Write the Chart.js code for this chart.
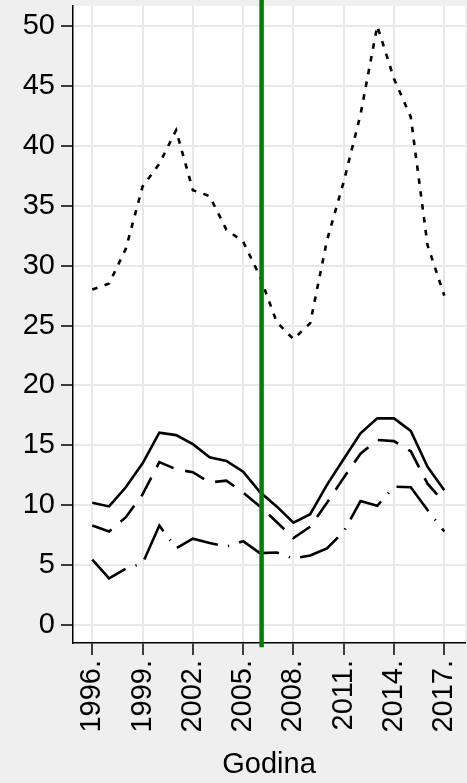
<!DOCTYPE html>
<html lang="hr">

<head>
    <meta charset="UTF-8">
    <title>Godina</title>
    <script src="https://cdn.jsdelivr.net/npm/chart.js@4.4.1/dist/chart.umd.min.js"></script>
    <style>
        body { margin: 0; background: #efefef; }
        #wrap { width: 467px; height: 783px; position: relative; }
    </style>
</head>

<body>
    <div id="wrap"><canvas id="chart"></canvas></div>

    <script>
        // data
        const years = [1996, 1997, 1998, 1999, 2000, 2001, 2002, 2003, 2004, 2005, 2006,
            2007, 2008, 2009, 2010, 2011, 2012, 2013, 2014, 2015, 2016, 2017];
        const dotted = [28.0, 28.5, 31.4, 36.6, 38.5, 41.3, 36.3, 35.8, 33.0, 32.0, 29.1,
            25.3, 23.85, 25.2, 32.1, 37.0, 42.6, 50.0, 45.6, 42.4, 31.7, 27.5];
        const solid = [10.2, 9.9, 11.5, 13.5, 16.05, 15.85, 15.1, 14.0, 13.7, 12.8, 11.1,
            9.9, 8.55, 9.25, 11.7, 13.85, 16.0, 17.25, 17.25, 16.2, 13.2, 11.25];
        const dashed = [8.3, 7.8, 9.0, 10.9, 13.6, 13.0, 12.75, 11.9, 12.05, 11.05, 9.9,
            8.6, 7.25, 8.2, 10.2, 12.3, 14.3, 15.45, 15.35, 14.5, 11.8, 10.2];
        const dashDot = [5.45, 3.9, 4.7, 5.15, 8.3, 6.4, 7.2, 6.85, 6.55, 7.0, 6.0,
            6.05, 5.55, 5.8, 6.4, 7.8, 10.35, 9.95, 11.55, 11.5, 9.6, 7.8];
        const markerYear = 2006.1;
        const xTicks = [1996, 1999, 2002, 2005, 2008, 2011, 2014, 2017];
        const yTicks = [0, 5, 10, 15, 20, 25, 30, 35, 40, 45, 50];

        const pts = arr => arr.map((v, i) => ({ x: years[i], y: v }));

        const bgPlugin = {
            id: 'bg',
            beforeDraw(chart) {
                const { ctx, chartArea: a, width, height } = chart;
                ctx.save();
                ctx.fillStyle = '#efefef';
                ctx.fillRect(0, 0, width, height);
                ctx.fillStyle = '#ffffff';
                ctx.fillRect(a.left, a.top, a.right - a.left, a.bottom - a.top);
                ctx.restore();
            }
        };

        function lineSet(data, dash) {
            return {
                data: pts(data),
                borderColor: '#000',
                borderWidth: 2.6,
                borderDash: dash,
                pointRadius: 0,
                tension: 0,
                fill: false
            };
        }

        const font = { family: 'Liberation Sans, Arial, sans-serif', size: 29 };

        new Chart(document.getElementById('chart'), {
            type: 'line',
            data: {
                datasets: [
                    {
                        data: [{ x: markerYear, y: -1.85 }, { x: markerYear, y: 53 }],
                        borderColor: '#008000',
                        borderWidth: 4.5,
                        pointRadius: 0,
                        clip: false
                    },
                    lineSet(dotted, [5.5, 7.5]),
                    lineSet(solid, []),
                    lineSet(dashed, [21, 12]),
                    lineSet(dashDot, [44, 10.5, 1.2, 10.5])
                ]
            },
            options: {
                responsive: true,
                maintainAspectRatio: false,
                animation: false,
                layout: { padding: { top: 6, right: 2, left: 0, bottom: 0 } },
                plugins: {
                    legend: { display: false },
                    tooltip: { enabled: false }
                },
                scales: {
                    x: {
                        type: 'linear',
                        min: 1994.849,
                        max: 2018.235,
                        afterBuildTicks: s => { s.ticks = xTicks.map(v => ({ value: v })); },
                        afterFit: s => {
                            s.height = 140;
                            s.paddingLeft = 0;
                            s.paddingRight = 0;
                        },
                        grid: { color: '#e8e8e8', lineWidth: 2, tickColor: '#000', tickWidth: 1.5, tickLength: 12 },
                        border: { color: '#000', width: 1.5 },
                        ticks: {
                            autoSkip: false,
                            minRotation: 90,
                            maxRotation: 90,
                            padding: 5,
                            color: '#000',
                            font: font,
                            callback: v => v + '.'
                        },
                        title: {
                            display: true,
                            text: 'Godina',
                            color: '#000',
                            font: font,
                            padding: { top: 0, bottom: 1 }
                        }
                    },
                    y: {
                        min: -1.5025,
                        max: 51.67,
                        afterBuildTicks: s => { s.ticks = yTicks.map(v => ({ value: v })); },
                        afterFit: s => {
                            s.width = 73;
                            s.paddingTop = 0;
                            s.paddingBottom = 0;
                        },
                        grid: { color: '#e8e8e8', lineWidth: 2, tickColor: '#000', tickWidth: 1.5, tickLength: 12 },
                        border: { color: '#000', width: 1.5 },
                        ticks: {
                            padding: 6,
                            color: '#000',
                            font: font
                        }
                    }
                }
            },
            plugins: [bgPlugin]
        });
    </script>
</body>

</html>
